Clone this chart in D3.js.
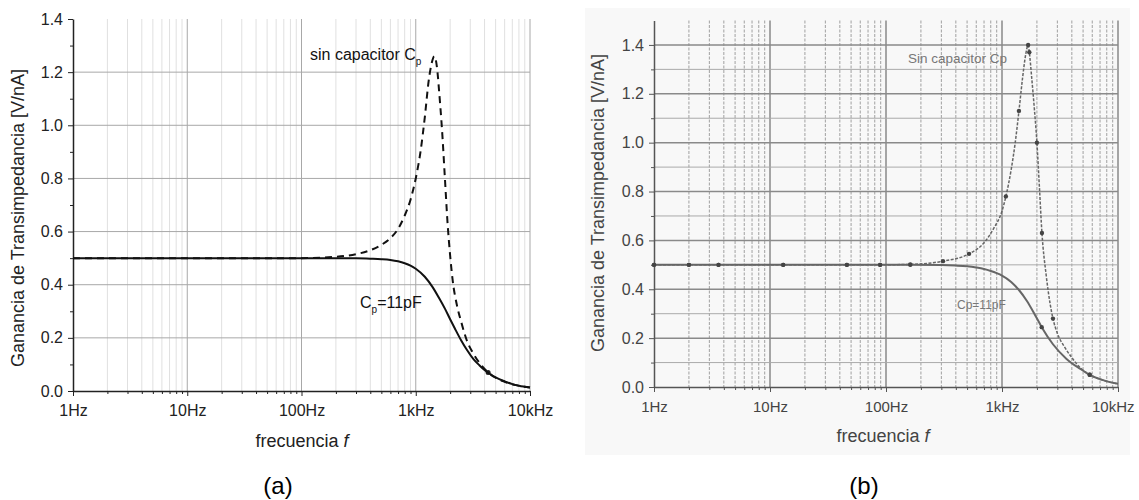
<!DOCTYPE html>
<html>
<head>
<meta charset="utf-8">
<script src="https://cdnjs.cloudflare.com/ajax/libs/d3/7.8.5/d3.min.js"></script>
<style>
  body { margin: 0; background: #fff; }
  svg { display: block; font-family: Arial, "Liberation Sans", sans-serif; }
</style>
</head>
<body>
<svg id="chart" width="1139" height="500"></svg>
<script>
// tick values and labels, shared by both panels
const freqTicks = [1, 10, 100, 1000, 10000];
const freqTickLabels = ['1Hz', '10Hz', '100Hz', '1kHz', '10kHz'];
const gainTicks = [0, 0.2, 0.4, 0.6, 0.8, 1.0, 1.2, 1.4];

// panel (a): simulated curves
const freqA_sin = [1, 10, 100, 200, 300, 400, 500, 600, 700, 800, 900, 1000, 1100, 1200, 1300, 1400, 1450, 1500, 1550, 1600, 1700, 1800, 1900, 2000, 2100, 2300, 2500, 2800, 3200, 3700, 4300, 5000, 6000, 7500, 10000];
const gainA_sin = [0.5, 0.5, 0.5, 0.505, 0.515, 0.53, 0.55, 0.575, 0.61, 0.66, 0.72, 0.8, 0.9, 1.03, 1.17, 1.245, 1.26, 1.245, 1.2, 1.13, 0.98, 0.8, 0.63, 0.51, 0.42, 0.32, 0.26, 0.19, 0.14, 0.1, 0.07, 0.05, 0.035, 0.022, 0.013];
const freqA_cp = [1, 10, 100, 200, 300, 400, 500, 600, 700, 800, 900, 1000, 1200, 1400, 1600, 1800, 2000, 2200, 2500, 2800, 3200, 3600, 4000, 4500, 5000, 6000, 7000, 8000, 10000];
const gainA_cp = [0.5, 0.5, 0.5, 0.5, 0.5, 0.498, 0.496, 0.493, 0.488, 0.481, 0.472, 0.46, 0.43, 0.392, 0.35, 0.31, 0.27, 0.235, 0.19, 0.155, 0.12, 0.097, 0.079, 0.063, 0.051, 0.036, 0.026, 0.02, 0.013];
const markA = [4300];

// panel (b): measured curves
const freqB_sin = [1, 2, 3.6, 13, 46, 89, 162, 310, 520, 700, 850, 1000, 1080, 1200, 1300, 1400, 1500, 1600, 1680, 1720, 1800, 1900, 2000, 2100, 2210, 2400, 2600, 2750, 3000, 3500, 4000, 4700, 5700, 7000, 8500, 10000];
const gainB_sin = [0.5, 0.5, 0.5, 0.5, 0.5, 0.5, 0.502, 0.515, 0.545, 0.59, 0.65, 0.72, 0.78, 0.89, 1.0, 1.13, 1.26, 1.36, 1.4, 1.37, 1.27, 1.14, 1.0, 0.82, 0.63, 0.46, 0.34, 0.28, 0.22, 0.16, 0.12, 0.08, 0.05, 0.032, 0.02, 0.013];
const freqB_cp = [1, 2, 3.6, 13, 46, 89, 162, 300, 400, 500, 600, 700, 800, 900, 1000, 1200, 1400, 1640, 1900, 2200, 2750, 3600, 4700, 5700, 7000, 8500, 10000];
const gainB_cp = [0.5, 0.5, 0.5, 0.5, 0.5, 0.5, 0.5, 0.499, 0.497, 0.494, 0.489, 0.483, 0.475, 0.466, 0.456, 0.43, 0.397, 0.352, 0.3, 0.245, 0.175, 0.115, 0.075, 0.05, 0.032, 0.02, 0.013];
const markB_sin = [1, 2, 3.6, 13, 46, 89, 162, 310, 520, 1080, 1400, 1680, 1720, 2000, 2210, 2750, 5700];
const markB_cp = [1, 2, 3.6, 13, 46, 89, 162, 2200, 5700];

const svg = d3.select('#chart');

function zip(fs, gs) {
    return fs.map((f, i) => ({f: f, g: gs[i]}));
}

function drawPanel(p) {
    const g = svg.append('g');
    const x = d3.scaleLog().domain([1, 10000]).range([p.left, p.right]);
    const y = d3.scaleLinear().domain([0, p.yMax]).range([p.bottom, p.top]);
    const minorF = x.ticks().filter(f => !freqTicks.includes(f));

    if (p.bg) {
        g.append('rect')
            .attr('x', p.bg[0]).attr('y', p.bg[1])
            .attr('width', p.bg[2]).attr('height', p.bg[3])
            .attr('fill', '#f8f8f8');
    }

    // vertical grid
    g.selectAll('.vminor').data(minorF).enter().append('line')
        .attr('x1', d => x(d)).attr('x2', d => x(d))
        .attr('y1', y(p.yMax)).attr('y2', y(0))
        .attr('stroke', p.minorColor)
        .attr('stroke-width', p.minorWidth)
        .attr('stroke-dasharray', p.minorDash);
    g.selectAll('.vmajor').data(freqTicks.slice(1)).enter().append('line')
        .attr('x1', d => x(d)).attr('x2', d => x(d))
        .attr('y1', y(p.yMax)).attr('y2', y(0))
        .attr('stroke', p.majorColor)
        .attr('stroke-width', p.majorWidth);

    // horizontal grid
    g.selectAll('.hminor').data(p.hMinor).enter().append('line')
        .attr('x1', p.left).attr('x2', p.right)
        .attr('y1', d => y(d)).attr('y2', d => y(d))
        .attr('stroke', p.hMinorColor)
        .attr('stroke-width', 1);
    g.selectAll('.hmajor').data(p.hMajor).enter().append('line')
        .attr('x1', p.left).attr('x2', p.right)
        .attr('y1', d => y(d)).attr('y2', d => y(d))
        .attr('stroke', p.majorColor)
        .attr('stroke-width', p.majorWidth);

    // axes
    const xAxis = g.append('g')
        .attr('transform', 'translate(0,' + p.bottom + ')')
        .call(d3.axisBottom(x).tickValues(freqTicks)
            .tickFormat((d, i) => freqTickLabels[i])
            .tickSize(5).tickPadding(p.xPad).tickSizeOuter(0));
    g.append('g')
        .attr('transform', 'translate(0,' + p.bottom + ')')
        .call(d3.axisBottom(x).tickValues(minorF).tickFormat('').tickSize(3).tickSizeOuter(0))
        .call(s => s.select('.domain').remove());
    const yAxis = g.append('g')
        .attr('transform', 'translate(' + p.left + ',0)')
        .call(d3.axisLeft(y).tickValues(gainTicks)
            .tickFormat(d3.format('.1f'))
            .tickSize(5).tickPadding(5).tickSizeOuter(0));
    g.append('g')
        .attr('transform', 'translate(' + p.left + ',0)')
        .call(d3.axisLeft(y).tickValues(d3.range(0.1, p.yMax, 0.2)).tickFormat('').tickSize(3).tickSizeOuter(0))
        .call(s => s.select('.domain').remove());
    g.selectAll('.domain').attr('stroke', p.axisColor).attr('stroke-width', 1.5);
    g.selectAll('.tick line').attr('stroke', p.axisColor);
    g.selectAll('.tick text')
        .attr('font-size', 16)
        .attr('font-family', 'Arial, "Liberation Sans", sans-serif')
        .attr('fill', p.textColor);
    xAxis.selectAll('.tick text').attr('font-size', p.xFont);
    // last label is pulled in a little, as in the reference
    xAxis.selectAll('.tick text').filter(d => d === 10000).attr('dx', p.lastDx);

    // curves
    const line = d3.line()
        .x(d => x(d.f))
        .y(d => y(d.g))
        .curve(d3.curveMonotoneX);
    p.series.forEach(s => {
        const pts = zip(s.f, s.g);
        g.append('path')
            .datum(pts)
            .attr('d', line)
            .attr('fill', 'none')
            .attr('stroke', s.color)
            .attr('stroke-width', s.width)
            .attr('stroke-dasharray', s.dash);
        g.selectAll(null)
            .data(pts.filter(d => s.marks.includes(d.f)))
            .enter().append('circle')
            .attr('cx', d => x(d.f))
            .attr('cy', d => y(d.g))
            .attr('r', s.markR)
            .attr('fill', s.markColor);
    });

    // axis titles
    g.append('text')
        .attr('transform', 'translate(' + p.yTitle[0] + ',' + p.yTitle[1] + ') rotate(-90)')
        .attr('text-anchor', 'middle')
        .attr('font-size', 18)
        .attr('fill', p.textColor)
        .text('Ganancia de Transimpedancia [V/nA]');
    const xt = g.append('text')
        .attr('x', p.xTitle[0]).attr('y', p.xTitle[1])
        .attr('text-anchor', 'middle')
        .attr('font-size', 18)
        .attr('fill', p.textColor);
    xt.append('tspan').text('frecuencia ');
    xt.append('tspan').attr('font-style', 'italic').text('f');

    g.append('text')
        .attr('x', p.tag[0]).attr('y', p.tag[1])
        .attr('text-anchor', 'middle')
        .attr('font-size', 24)
        .attr('fill', '#000')
        .text(p.tagText);
    return g;
}

// panel (a)
const ga = drawPanel({
    left: 73, right: 530, top: 19, bottom: 391, yMax: 1.4,
    minorColor: '#e0e0e0', minorWidth: 1, minorDash: null,
    majorColor: '#a8a8a8', majorWidth: 1,
    hMinor: [], hMajor: [0.2, 0.4, 0.6, 0.8, 1.0, 1.2], hMinorColor: '#ddd',
    axisColor: '#222', textColor: '#222', xPad: 9, xFont: 16, lastDx: 0,
    series: [
        {f: freqA_sin, g: gainA_sin, color: '#111', width: 2, dash: '7,5', marks: markA, markR: 2.5, markColor: '#222'},
        {f: freqA_cp, g: gainA_cp, color: '#111', width: 2, dash: null, marks: [], markR: 0, markColor: '#222'}
    ],
    yTitle: [24, 218], xTitle: [302, 447], tag: [278, 494], tagText: '(a)'
});
const ta = ga.append('text').attr('x', 310).attr('y', 60).attr('font-size', 16).attr('fill', '#111');
ta.append('tspan').text('sin capacitor C');
ta.append('tspan').attr('font-size', 10).attr('dy', 5).text('p');
const tb = ga.append('text').attr('x', 360).attr('y', 308).attr('font-size', 16).attr('fill', '#111');
tb.append('tspan').text('C');
tb.append('tspan').attr('font-size', 10).attr('dy', 5).text('p');
tb.append('tspan').attr('dy', -5).text('=11pF');

// panel (b)
const gb = drawPanel({
    left: 654, right: 1118, top: 20.5, bottom: 387, yMax: 1.5,
    minorColor: '#a0a0a0', minorWidth: 1, minorDash: '3,1.5',
    majorColor: '#8a8a8a', majorWidth: 1.5,
    hMinor: [0.1, 0.3, 0.5, 0.7, 0.9, 1.1, 1.3], hMajor: [0.2, 0.4, 0.6, 0.8, 1.0, 1.2, 1.4], hMinorColor: '#aaa',
    axisColor: '#555', textColor: '#444', xPad: 9, xFont: 15, lastDx: '-0.35em',
    series: [
        {f: freqB_sin, g: gainB_sin, color: '#666', width: 1.5, dash: '3,1.5', marks: markB_sin, markR: 2.2, markColor: '#444'},
        {f: freqB_cp, g: gainB_cp, color: '#666', width: 2, dash: null, marks: markB_cp, markR: 2.2, markColor: '#444'}
    ],
    yTitle: [604, 203], xTitle: [883, 442], tag: [864, 494], tagText: '(b)',
    bg: [585, 8, 545, 447]
});
gb.append('text').attr('x', 908).attr('y', 63).attr('font-size', 13.5).attr('fill', '#777').text('Sin capacitor Cp');
gb.append('text').attr('x', 957).attr('y', 309).attr('font-size', 12).attr('fill', '#777').text('Cp=11pF');
</script>
</body>
</html>
